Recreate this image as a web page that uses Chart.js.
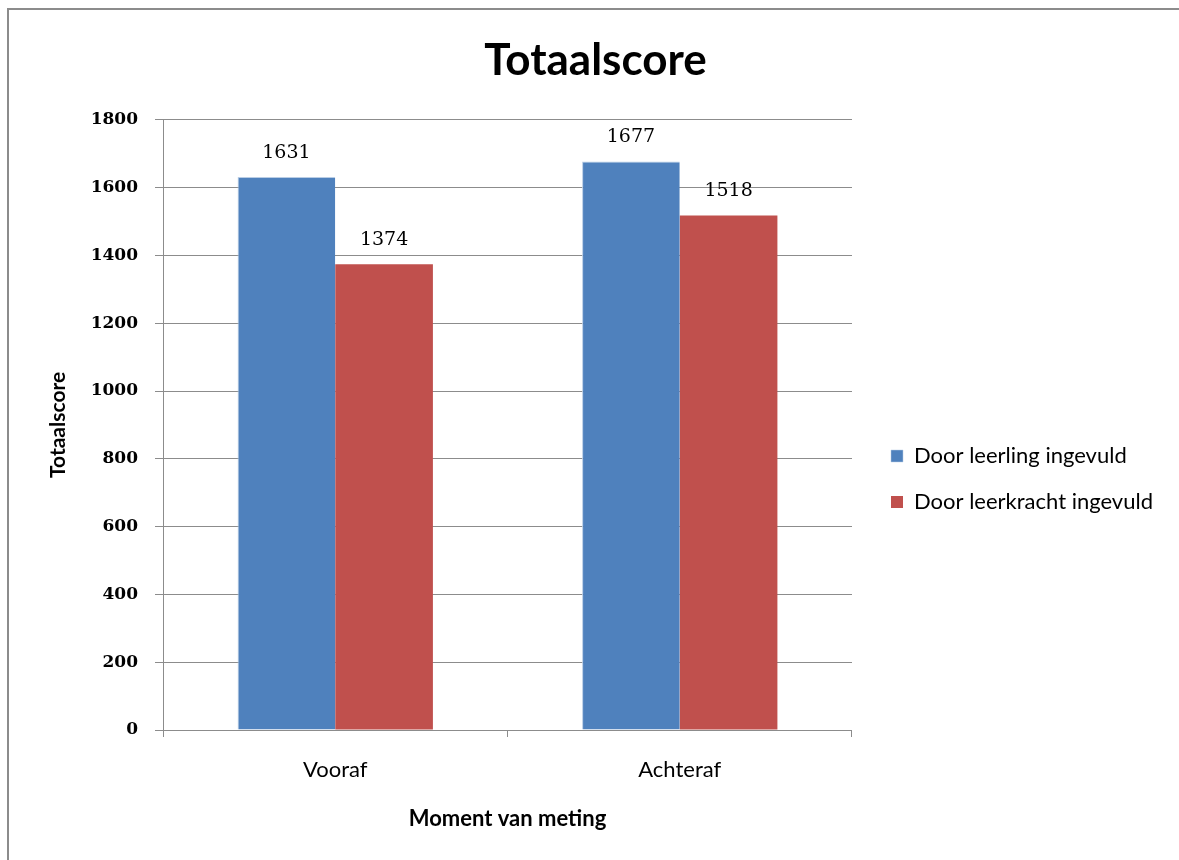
<!DOCTYPE html>
<html>
<head>
<meta charset="utf-8">
<script src="https://cdn.jsdelivr.net/npm/chart.js@4.4.1/dist/chart.umd.min.js"></script>
<style>
  html, body { margin: 0; padding: 0; background: #fff; }
  #wrap { position: relative; width: 1179px; height: 860px; overflow: hidden; }
  #frame { position: absolute; left: 7px; top: 8px; width: 1300px; height: 1000px;
           border-left: 2px solid #8c8c8c; border-top: 2px solid #8c8c8c; }
  canvas { position: absolute; left: 0; top: 0; }
</style>
</head>
<body>
<div id="wrap">
  <div id="frame"></div>
  <canvas id="chart" width="1179" height="860"></canvas>
</div>
<script>
// data
const categories = ['Vooraf', 'Achteraf'];
const leerling = [1631, 1677];
const leerkracht = [1374, 1518];
const seriesNames = ['Door leerling ingevuld', 'Door leerkracht ingevuld'];
const yTicks = [0, 200, 400, 600, 800, 1000, 1200, 1400, 1600, 1800];

const FONT = 'Lato, "Open Sans", sans-serif';
const NUMFONT = '"DejaVu Serif", serif';

// value labels above the bars
const valueLabels = {
    id: 'valueLabels',
    afterDatasetsDraw(chart) {
        const ctx = chart.ctx;
        ctx.save();
        ctx.font = '19px ' + NUMFONT;
        ctx.fillStyle = '#000';
        ctx.textAlign = 'center';
        ctx.textBaseline = 'middle';
        chart.data.datasets.forEach((ds, i) => {
            chart.getDatasetMeta(i).data.forEach((bar, j) => {
                ctx.fillText(ds.data[j], bar.x, bar.y - 24);
            });
        });
        ctx.restore();
    }
};

window.addEventListener('DOMContentLoaded', () => {
    const ctx = document.getElementById('chart');
    new Chart(ctx, {
        type: 'bar',
        data: {
            labels: categories,
            datasets: [
                { label: seriesNames[0], data: leerling, backgroundColor: '#4F81BD',
                  borderColor: '#B9CDE5', borderWidth: { left: 1, top: 1 }, borderSkipped: 'bottom' },
                { label: seriesNames[1], data: leerkracht, backgroundColor: '#C0504D',
                  borderWidth: 0 }
            ]
        },
        options: {
            responsive: false,
            animation: false,
            categoryPercentage: 0.567,
            barPercentage: 1.0,
            layout: { padding: { left: 28, right: 16, top: 0, bottom: 20 } },
            plugins: {
                title: {
                    display: true,
                    text: 'Totaalscore',
                    color: '#000',
                    font: { family: FONT, size: 44, weight: 'bold' },
                    padding: { top: 34, bottom: 33 }
                },
                legend: {
                    position: 'right',
                    maxWidth: 400,
                    title: { display: true, text: ' ', padding: 53, font: { size: 10 } },
                    labels: {
                        color: '#000',
                        boxWidth: 12,
                        boxHeight: 12,
                        padding: 24,
                        font: { family: FONT, size: 22 }
                    }
                },
                tooltip: { enabled: false }
            },
            scales: {
                x: {
                    afterFit: (s) => { s.height = 110; },
                    grid: { drawOnChartArea: false, drawTicks: true, tickLength: 7, color: '#8c8c8c' },
                    border: { color: '#8c8c8c' },
                    ticks: { color: '#000', padding: 20, font: { family: FONT, size: 22 } },
                    title: {
                        display: true,
                        text: 'Moment van meting',
                        color: '#000',
                        font: { family: FONT, size: 22, weight: 'bold' },
                        padding: { top: 0, bottom: 8 }
                    }
                },
                y: {
                    min: 0,
                    max: 1800,
                    afterFit: (s) => { s.width = 135; },
                    afterBuildTicks: (s) => { s.ticks = yTicks.map(v => ({ value: v })); },
                    grid: { color: '#8c8c8c', tickLength: 8 },
                    border: { color: '#8c8c8c' },
                    ticks: {
                        color: '#000', padding: 17,
                        font: { family: NUMFONT, size: 17, weight: 'bold' },
                        callback: (v) => String(v)
                    },
                    title: {
                        display: true,
                        text: 'Totaalscore',
                        color: '#000',
                        font: { family: FONT, size: 21, weight: 'bold' },
                        padding: { top: 18, bottom: 0 }
                    }
                },
                // spacer between plot area and legend
                gap: {
                    type: 'linear',
                    position: 'right',
                    afterFit: (s) => { s.width = 15; },
                    grid: { display: false },
                    border: { display: false },
                    ticks: { display: false }
                }
            }
        },
        plugins: [valueLabels]
    });
});
</script>
</body>
</html>
